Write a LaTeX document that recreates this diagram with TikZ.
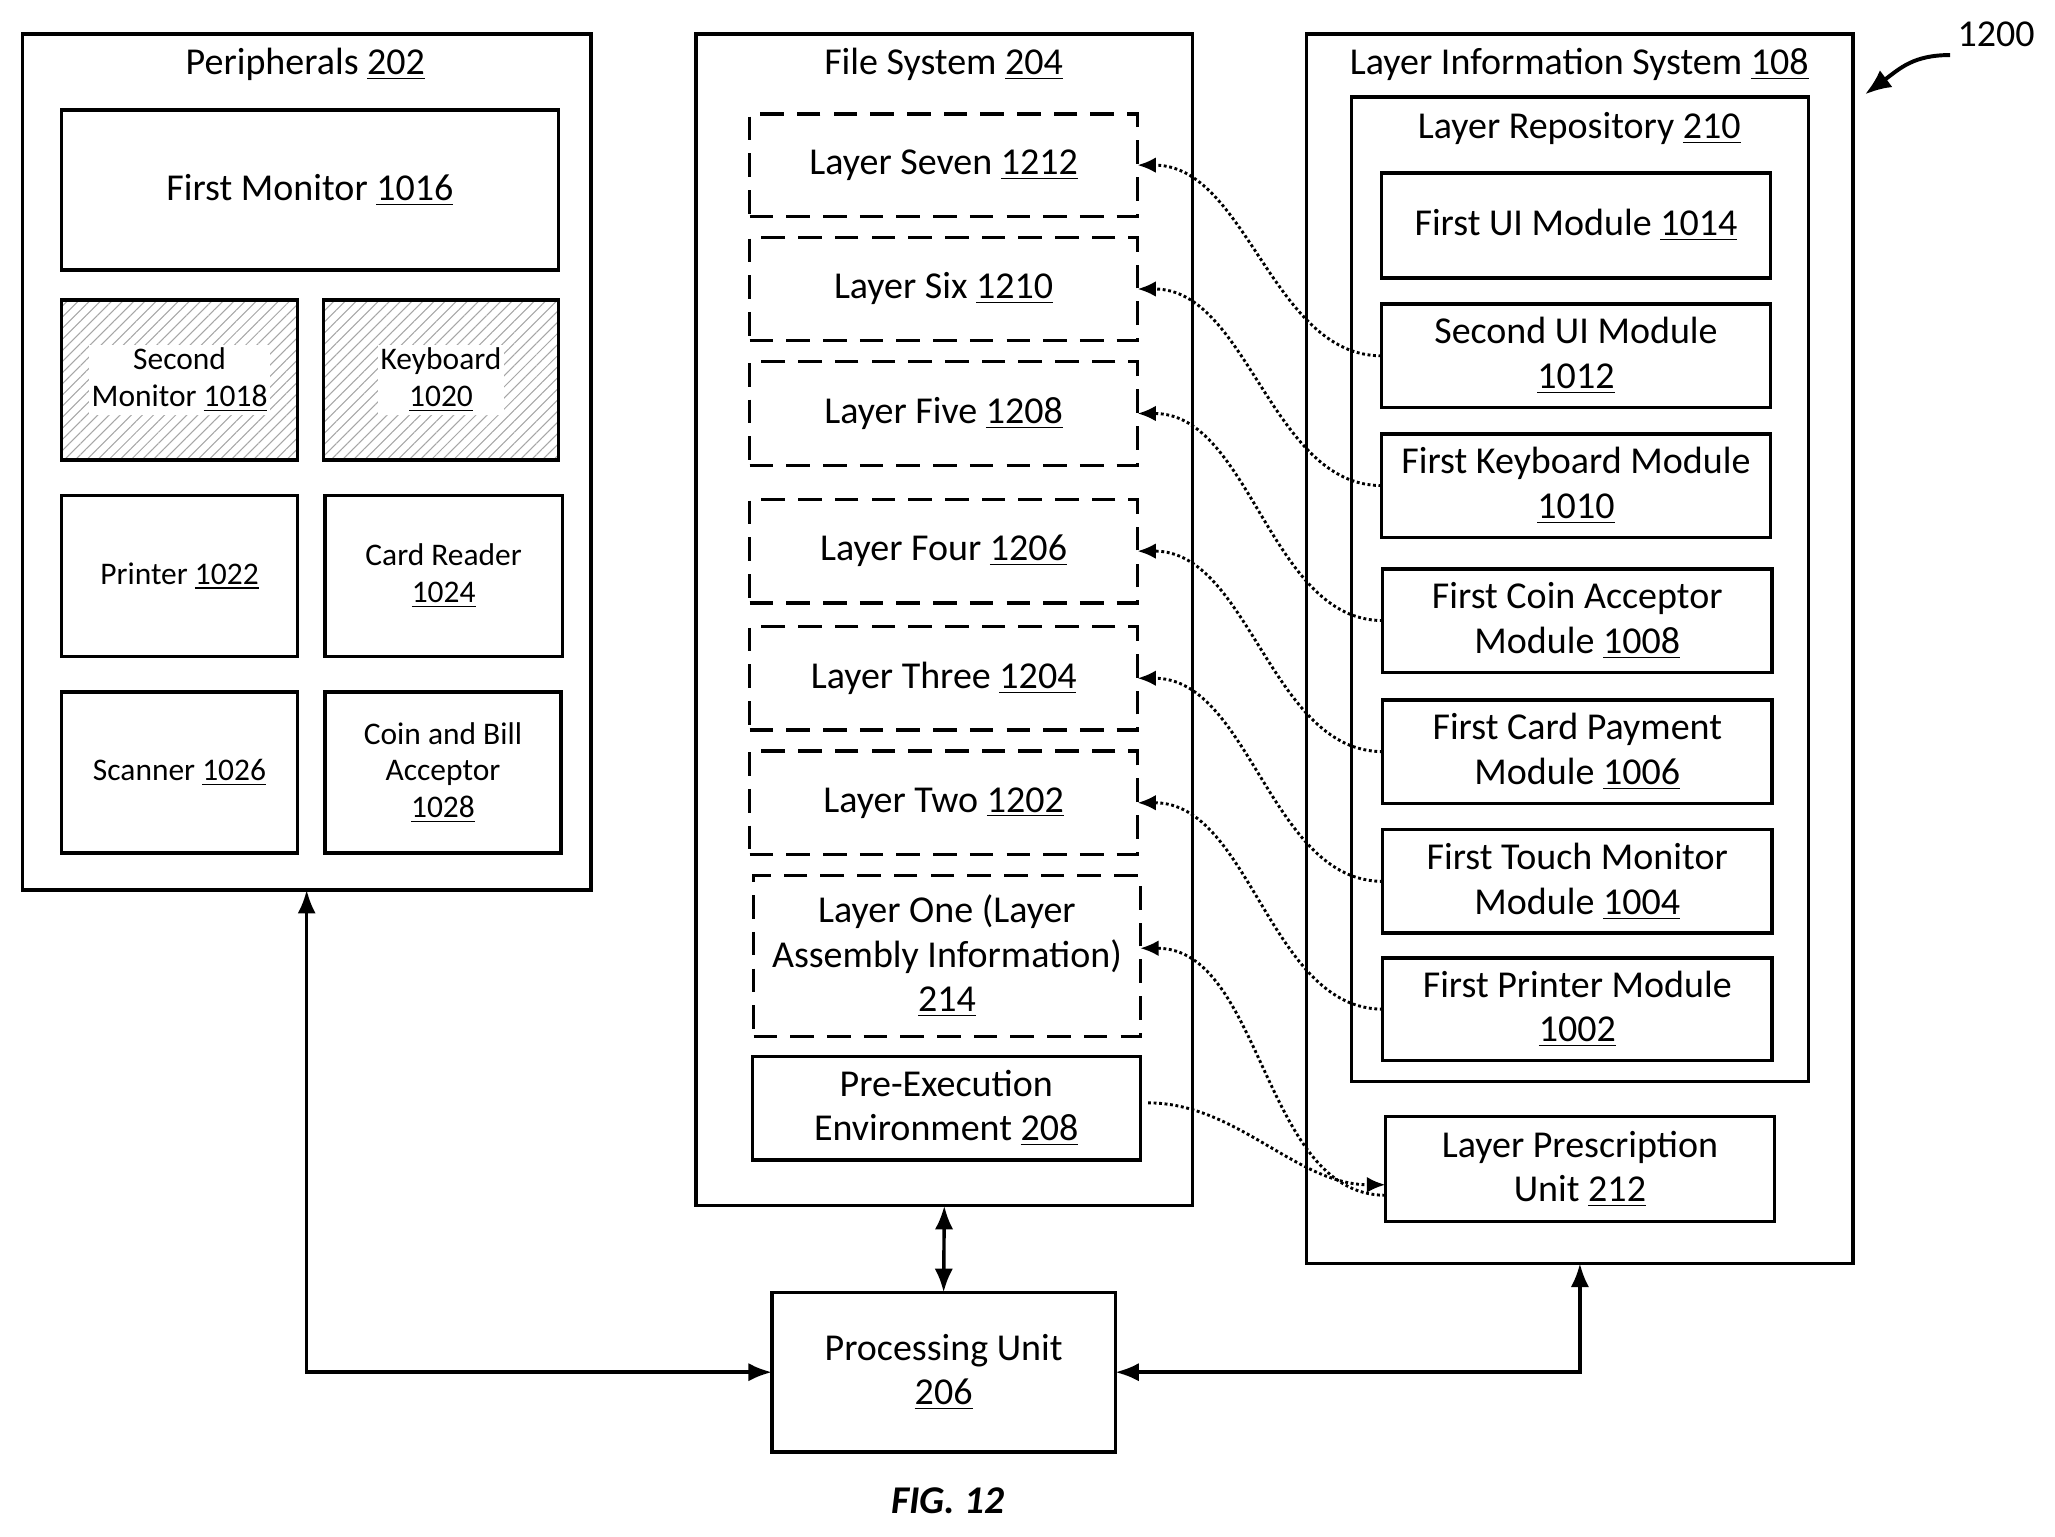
\documentclass[tikz,border=0pt]{standalone}
\usepackage{fontspec}
\setmainfont{Carlito}
\usetikzlibrary{arrows.meta,patterns.meta}
\newcommand\un[1]{\underline{#1}}
\newcommand\bx[7]{%
  \pgfmathsetmacro\cxx{(#3+#5)/2}\pgfmathsetmacro\cyy{(#4+#6)/2}%
  \pgfmathsetmacro\ww{(#5-#3)*0.5}\pgfmathsetmacro\hh{(#6-#4)*0.5}%
  \node[#1,minimum width=\ww pt,minimum height=\hh pt] (#2) at (\cxx,\cyy) {#7};}
\begin{document}
\begin{tikzpicture}[x=0.5pt,y=-0.5pt,
  box/.style={draw,line width=1.3pt,inner sep=0pt,outer sep=0pt,align=center,font=\fontsize{14.5}{17}\selectfont},
  sbox/.style={box,font=\fontsize{12}{14}\selectfont},
  dbox/.style={box,dash pattern=on 9pt off 5pt},
  hbox/.style={sbox,pattern={Lines[angle=45,distance=3pt,line width=0.4pt]},pattern color=gray!70},
  ttl/.style={font=\fontsize{14.5}{17}\selectfont},
  dot/.style={densely dotted,line width=1.1pt,-{Latex[length=7pt,width=6pt]}},
  arr/.style={line width=1.3pt,{Latex[length=9pt,width=7pt]}-{Latex[length=9pt,width=7pt]}}]
\useasboundingbox (0,0) rectangle (1568,1172);
% Peripherals
\bx{box}{per}{17}{26}{451}{679}{}
\node[ttl] (pert) at (233,49) {Peripherals \un{202}};
\bx{box}{mon1}{47}{84}{426}{206}{First Monitor \un{1016}}
\bx{hbox}{mon2}{47}{229}{227}{351}{}
\node[sbox,draw=none,fill=white,inner sep=1pt] at (mon2) {Second\\Monitor \un{1018}};
\bx{hbox}{kb}{247}{229}{426}{351}{}
\node[sbox,draw=none,fill=white,inner sep=1pt] at (kb) {Keyboard\\\un{1020}};
\bx{sbox}{pr}{47}{378}{227}{501}{Printer \un{1022}}
\bx{sbox}{cr}{248}{378}{429}{501}{Card Reader\\\un{1024}}
\bx{sbox}{sc}{47}{528}{227}{651}{Scanner \un{1026}}
\bx{sbox}{cb}{248}{528}{428}{651}{Coin and Bill\\Acceptor\\\un{1028}}
% File system
\bx{box}{fs}{531}{26}{910}{920}{}
\node[ttl] (fst) at (720,49) {File System \un{204}};
\bx{dbox}{l7}{572}{87}{868}{165}{Layer Seven \un{1212}}
\bx{dbox}{l6}{572}{181}{868}{260}{Layer Six \un{1210}}
\bx{dbox}{l5}{572}{276}{868}{355}{Layer Five \un{1208}}
\bx{dbox}{l4}{572}{381}{868}{460}{Layer Four \un{1206}}
\bx{dbox}{l3}{572}{478}{868}{557}{Layer Three \un{1204}}
\bx{dbox}{l2}{572}{573}{868}{652}{Layer Two \un{1202}}
\bx{dbox}{l1}{575}{668}{870}{791}{Layer One (Layer\\Assembly Information)\\\un{214}}
\bx{box}{pe}{574}{806}{870}{885}{Pre-Execution\\Environment \un{208}}
% LIS
\bx{box}{lis}{997}{26}{1414}{964}{}
\node[ttl] (list) at (1205,49) {Layer Information System \un{108}};
\bx{box}{rep}{1031}{74}{1380}{825}{}
\node[ttl] (rept) at (1205,98) {Layer Repository \un{210}};
\bx{box}{m14}{1054}{132}{1351}{212}{First UI Module \un{1014}}
\bx{box}{m12}{1054}{232}{1351}{311}{Second UI Module\\\un{1012}}
\bx{box}{m10}{1054}{331}{1351}{410}{First Keyboard Module\\\un{1010}}
\bx{box}{m08}{1055}{434}{1352}{513}{First Coin Acceptor\\Module \un{1008}}
\bx{box}{m06}{1055}{534}{1352}{613}{First Card Payment\\Module \un{1006}}
\bx{box}{m04}{1055}{633}{1352}{712}{First Touch Monitor\\Module \un{1004}}
\bx{box}{m02}{1055}{731}{1352}{809}{First Printer Module\\\un{1002}}
\bx{box}{lp}{1057}{852}{1354}{932}{Layer Prescription\\Unit \un{212}}
\bx{box}{pu}{589}{986}{851}{1108}{Processing Unit\\\un{206}}
\node[font=\fontsize{15}{17}\selectfont\bfseries\itshape] (fig) at (723,1145) {FIG. 12};
\node[ttl] (num) at (1523,26) {1200};
\coordinate (nA) at (1488,42);
\coordinate (nB) at (1423,72);
\draw[line width=1.5pt,-{Latex[length=10pt,width=8pt]}] (nA) .. controls (1460,42) and (1450,52) .. (nB);
% dotted connectors
\draw[dot] (m12.west) to[out=180,in=0,looseness=0.9] (l7.east);
\draw[dot] (m10.west) to[out=180,in=0,looseness=0.9] (l6.east);
\draw[dot] (m08.west) to[out=180,in=0,looseness=0.9] (l5.east);
\draw[dot] (m06.west) to[out=180,in=0,looseness=0.9] (l4.east);
\draw[dot] (m04.west) to[out=180,in=0,looseness=0.9] (l3.east);
\draw[dot] (m02.west) to[out=180,in=0,looseness=0.9] (l2.east);
\draw[dot] ([yshift=-10pt]lp.west) to[out=180,in=0,looseness=0.9] ([yshift=3pt]l1.east);
\draw[dot] ([xshift=3pt,yshift=2pt]pe.east) to[out=0,in=180,looseness=0.9] ([yshift=-6pt]lp.west);
% solid arrows
\draw[arr] (per.south) |- (pu.west);
\draw[arr] (fs.south) -- (pu.north);
\draw[arr] (lis.south) |- (pu.east);
\end{tikzpicture}
\end{document}
